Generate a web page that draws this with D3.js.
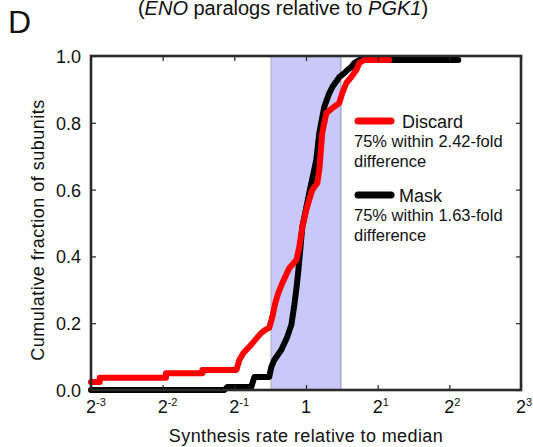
<!DOCTYPE html>
<html>
<head>
<meta charset="UTF-8">
<script src="https://cdn.jsdelivr.net/npm/d3@7/dist/d3.min.js"></script>
<style>
    body { margin: 0; background: #fff; }
    text { font-family: "Liberation Sans", Arial, Helvetica, sans-serif; fill: #111; }
</style>
</head>
<body>
<svg width="533" height="447"></svg>
<script>
// cumulative curves (x = synthesis rate / median, y = fraction)
var discardX = [0.125, 0.136, 0.136, 0.258, 0.258, 0.367, 0.367, 0.510, 0.525, 0.546, 0.578, 0.612, 0.649, 0.674,
    0.701, 0.722, 0.743, 0.765, 0.795, 0.851, 0.911, 0.937, 0.965, 1.003, 1.032, 1.063, 1.116, 1.137, 1.170,
    1.217, 1.290, 1.379, 1.420, 1.476, 1.550, 1.627, 1.675, 1.758, 2.238];
var discardY = [0.024, 0.024, 0.037, 0.037, 0.050, 0.050, 0.060, 0.060, 0.090, 0.111, 0.129, 0.150, 0.171, 0.180,
    0.186, 0.219, 0.260, 0.290, 0.320, 0.365, 0.389, 0.428, 0.488, 0.539, 0.569, 0.599, 0.620, 0.659, 0.769,
    0.829, 0.844, 0.859, 0.889, 0.919, 0.937, 0.958, 0.979, 0.988, 0.988];

var maskX = [0.125, 0.454, 0.467, 0.589, 0.607, 0.701, 0.715, 0.736, 0.787, 0.834, 0.868, 0.893, 0.915, 0.929,
    0.965, 1.032, 1.105, 1.137, 1.193, 1.253, 1.290, 1.354, 1.379, 1.448, 1.491, 1.550, 1.595, 1.675, 4.362];
var maskY = [0.0, 0.0, 0.009, 0.009, 0.039, 0.039, 0.069, 0.090, 0.120, 0.159, 0.195, 0.254, 0.314, 0.359,
    0.488, 0.590, 0.689, 0.769, 0.847, 0.889, 0.907, 0.928, 0.937, 0.949, 0.958, 0.967, 0.979, 0.988, 0.988];

var bandRange = [0.714, 1.4];
var xTickPowers = [-3, -2, -1, 0, 1, 2, 3];
var yTicks = [0, 0.2, 0.4, 0.6, 0.8, 1.0];
var seriesNames = ['Mask', 'Discard'];
var seriesColors = ['#000000', '#ff0000'];
var legendNames = ['Discard', 'Mask'];
var legendNotes = [['75% within 2.42-fold', 'difference'], ['75% within 1.63-fold', 'difference']];
var legendColors = ['#ff0000', '#000000'];

var svg = d3.select('svg');
var pLeft = 91, pRight = 521, pTop = 56, pBottom = 390;

var x = d3.scaleLog().base(2).domain([0.125, 8]).range([pLeft, pRight]);
var y = d3.scaleLinear().domain([0, 1]).range([pBottom, pTop]);
var xTickVals = xTickPowers.map(function (p) { return Math.pow(2, p); });

// title and panel letter
svg.append('text').attr('x', 8).attr('y', 33).style('font-size', '32px').text('D');
var title = svg.append('text').attr('x', 283).attr('y', 14.5).attr('text-anchor', 'middle')
    .style('font-size', '20px');
title.append('tspan').text('(');
title.append('tspan').style('font-style', 'italic').text('ENO');
title.append('tspan').text(' paralogs relative to ');
title.append('tspan').style('font-style', 'italic').text('PGK1');
title.append('tspan').text(')');

// shaded band
svg.append('rect')
    .attr('x', x(bandRange[0])).attr('y', pTop)
    .attr('width', x(bandRange[1]) - x(bandRange[0])).attr('height', pBottom - pTop)
    .attr('fill', '#c9c9f9');
svg.selectAll('.band-edge')
    .data(bandRange)
    .enter()
    .append('line')
    .attr('x1', function (d) { return x(d); }).attr('x2', function (d) { return x(d); })
    .attr('y1', pTop).attr('y2', pBottom)
    .attr('stroke', function (d, i) { return i === 0 ? '#b9b9cc' : '#a3a3cc'; })
    .attr('stroke-width', 1.5);

// curves
var line = d3.line()
    .x(function (d) { return x(d[0]); })
    .y(function (d) { return y(d[1]); });
var series = [d3.zip(maskX, maskY), d3.zip(discardX, discardY)];
svg.selectAll('.curve')
    .data(series)
    .enter()
    .append('path')
    .attr('d', line)
    .attr('fill', 'none')
    .attr('stroke', function (d, i) { return seriesColors[i]; })
    .attr('stroke-width', 6)
    .attr('stroke-linecap', 'round')
    .attr('stroke-linejoin', 'round');

// axes, ticks pointing inward
var axisStyle = function (g) {
    g.select('.domain').remove();
    g.selectAll('.tick line').attr('stroke', '#222').attr('stroke-width', 1.2);
};
svg.append('g').attr('transform', 'translate(0,' + pBottom + ')')
    .call(d3.axisBottom(x).tickValues(xTickVals).tickSizeInner(-5).tickFormat(''))
    .call(axisStyle);
svg.append('g').attr('transform', 'translate(0,' + pTop + ')')
    .call(d3.axisTop(x).tickValues(xTickVals).tickSizeInner(-5).tickFormat(''))
    .call(axisStyle);
svg.append('g').attr('transform', 'translate(' + pRight + ',0)')
    .call(d3.axisRight(y).tickValues(yTicks).tickSizeInner(-5).tickFormat(''))
    .call(axisStyle);
var yAxis = svg.append('g').attr('transform', 'translate(' + pLeft + ',0)')
    .call(d3.axisLeft(y).tickValues(yTicks).tickSizeInner(-5).tickPadding(10).tickFormat(d3.format('.1f')))
    .call(axisStyle);
yAxis.selectAll('.tick text')
    .attr('fill', '#111').attr('dy', '0.36em')
    .style('font-size', '18px').style('font-family', '"Liberation Sans", Arial, sans-serif');

// x tick labels with superscripts
var xLabels = svg.selectAll('.xlab')
    .data(xTickPowers)
    .enter()
    .append('text')
    .attr('x', function (p) { return x(Math.pow(2, p)); })
    .attr('y', 413)
    .style('font-size', '18px');
xLabels.each(function (p) {
    var t = d3.select(this);
    var base = p === 0 ? '1' : '2';
    t.append('tspan').attr('dx', '-0.278em').text(base);
    if (p !== 0) {
        t.append('tspan').attr('dy', -7).style('font-size', '11px').text(String(p));
    }
});

// frame
svg.append('rect')
    .attr('x', pLeft).attr('y', pTop)
    .attr('width', pRight - pLeft).attr('height', pBottom - pTop)
    .attr('fill', 'none').attr('stroke', '#2a2a2a').attr('stroke-width', 2.6);

// axis titles
svg.append('text').attr('x', 306).attr('y', 442).attr('text-anchor', 'middle')
    .style('font-size', '18px').style('letter-spacing', '0.4px')
    .text('Synthesis rate relative to median');
svg.append('text').attr('transform', 'translate(44,230) rotate(-90)').attr('text-anchor', 'middle')
    .style('font-size', '18px').style('letter-spacing', '0.5px')
    .text('Cumulative fraction of subunits');

// legend
var legendTop = [121, 195];
legendNames.forEach(function (name, i) {
    var ly = legendTop[i];
    svg.append('line')
        .attr('x1', 358).attr('x2', 391).attr('y1', ly).attr('y2', ly)
        .attr('stroke', legendColors[i]).attr('stroke-width', 7).attr('stroke-linecap', 'round');
    svg.append('text').attr('x', i === 0 ? 402 : 399).attr('y', ly + 6.5)
        .style('font-size', '18px').text(name);
    legendNotes[i].forEach(function (note, j) {
        svg.append('text').attr('x', 354).attr('y', ly + 26 + j * 20)
            .style('font-size', '16.5px').text(note);
    });
});
</script>
</body>
</html>
